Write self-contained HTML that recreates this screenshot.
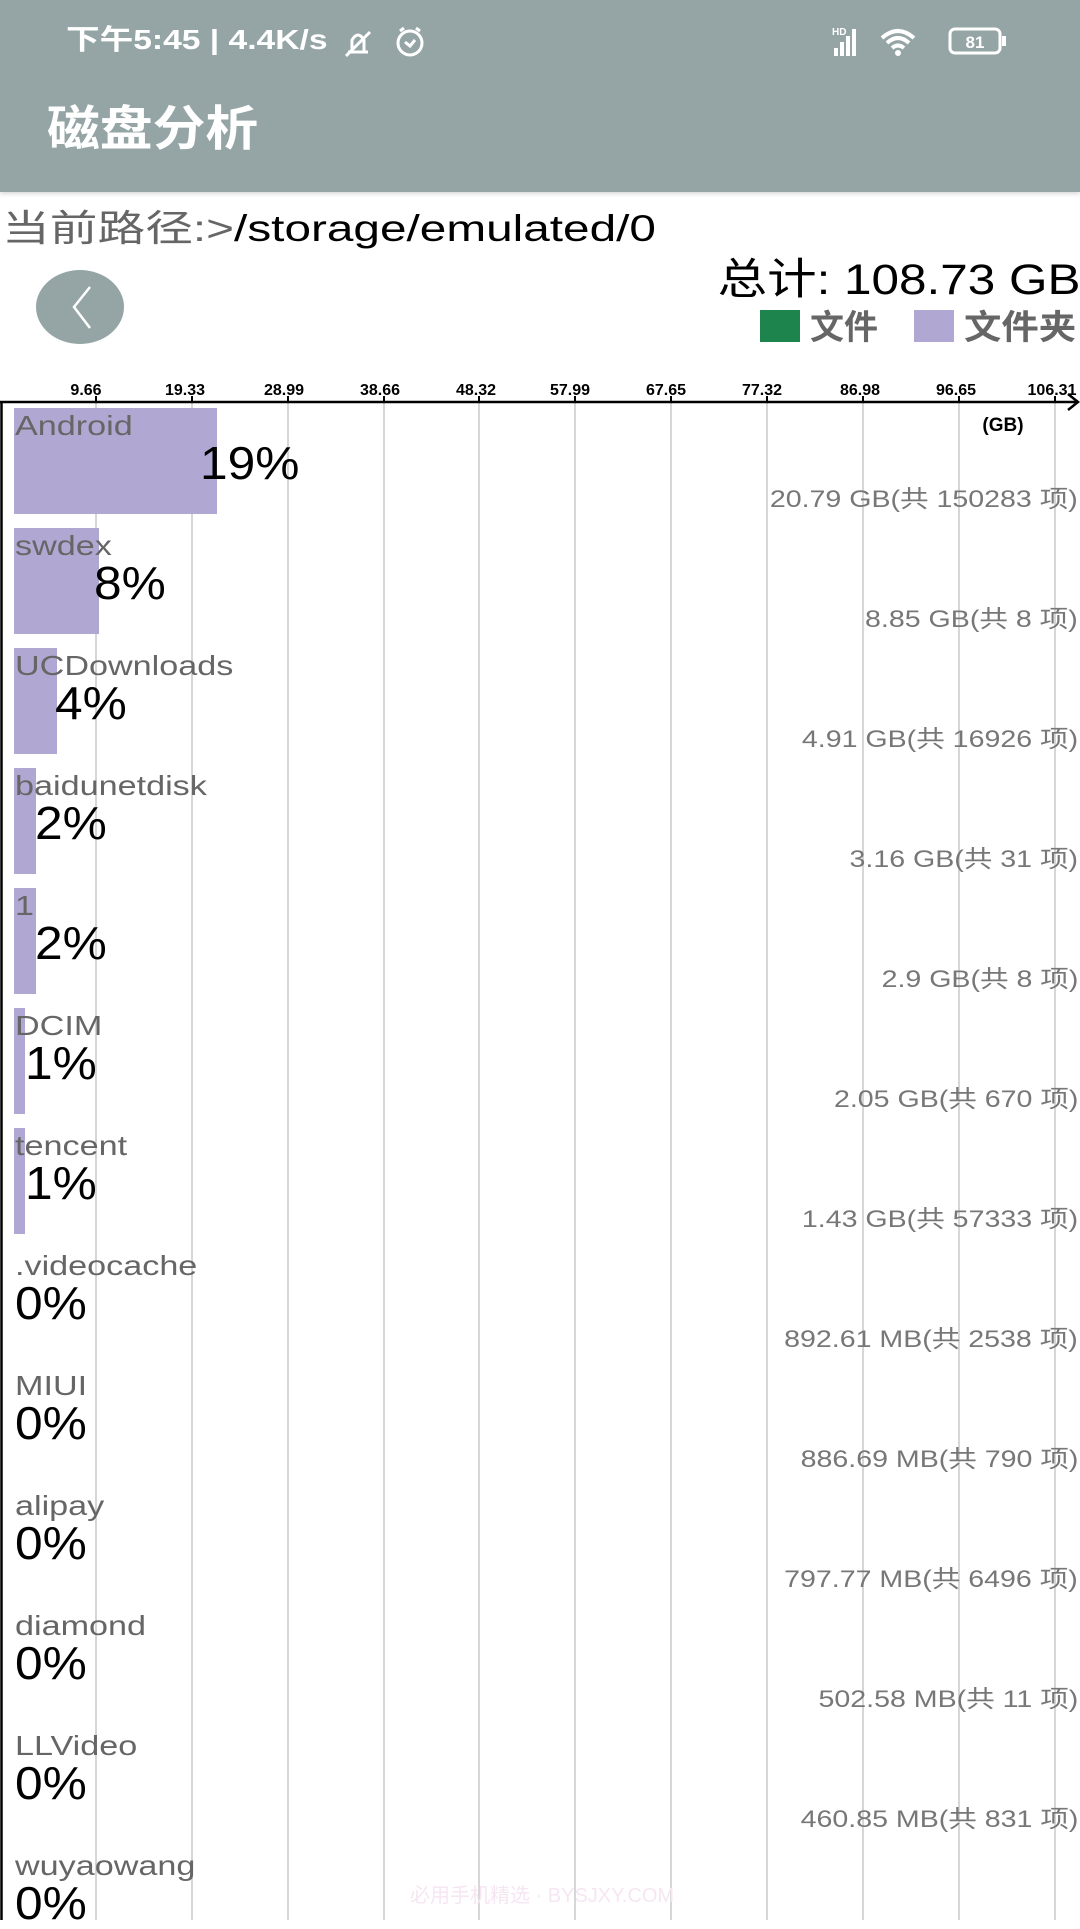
<!DOCTYPE html>
<html><head><meta charset="utf-8"><style>
*{margin:0;padding:0;box-sizing:border-box}
body{width:1080px;height:1920px;overflow:hidden;background:#fff;position:relative;font-family:"Liberation Sans","Noto Sans CJK SC",sans-serif}
.a{position:absolute;white-space:nowrap;line-height:1}
.hdr{position:absolute;left:0;top:0;width:1080px;height:192px;background:#95a5a5;box-shadow:0 2px 4px rgba(0,0,0,.15)}
.lab{position:absolute;left:15px;font-size:28px;color:#666;line-height:1;white-space:nowrap;transform:scaleX(1.22);transform-origin:left}
.pct{position:absolute;font-size:46px;color:#000;line-height:1;transform:scaleX(1.08);transform-origin:left}
.sz{position:absolute;right:2px;font-size:24px;color:#777;line-height:1;white-space:nowrap;transform:scaleX(1.19);transform-origin:right}
.bar{position:absolute;left:14px;height:106px;background:#b0a8d2}
</style></head><body>
<div class="hdr"></div>
<div class="a" style="left:66px;top:26px;font-size:28px;font-weight:bold;color:#fff;transform:scaleX(1.2);transform-origin:left">下午5:45 | 4.4K/s</div>
<svg class="a" style="left:342px;top:24px" width="90" height="36" viewBox="0 0 90 36" fill="none" stroke="#fff" stroke-width="3">
<path d="M6 28 L26 28 M10 28 L10 16 Q16 6 22 16 L22 28 M4 32 L28 8"/>
<circle cx="68" cy="19" r="12"/><path d="M63 18 L68 22 L73 16 M58 7 L62 4 M78 7 L74 4"/></svg>
<svg class="a" style="left:830px;top:24px" width="190" height="34" viewBox="0 0 190 34">
<text x="2" y="11" font-size="10" fill="#fff" font-family="Liberation Sans" font-weight="bold">HD</text>
<g fill="#fff"><rect x="4" y="24" width="4" height="8"/><rect x="10" y="18" width="4" height="14"/><rect x="16" y="12" width="4" height="20"/><rect x="22" y="5" width="4" height="27"/></g>
<path d="M52 14 Q68 0 84 14 M57 19 Q68 9 79 19 M62 24 Q68 19 74 24" stroke="#fff" stroke-width="4" fill="none"/><circle cx="68" cy="29" r="3" fill="#fff"/>
<rect x="120" y="5" width="50" height="24" rx="5" fill="none" stroke="#fff" stroke-width="3"/><rect x="172" y="12" width="4" height="10" fill="#fff"/>
<text x="145" y="24" font-size="17" fill="#fff" text-anchor="middle" font-family="Liberation Sans" font-weight="bold">81</text></svg>
<div class="a" style="left:47px;top:106px;font-size:48px;font-weight:bold;color:#fff;transform:scaleX(1.1);transform-origin:left">磁盘分析</div>
<div class="a" style="left:2px;top:210px;font-size:37px;color:#666;transform:scaleX(1.29);transform-origin:left">当前路径:&gt;<span style="color:#000">/storage/emulated/0</span></div>
<div class="a" style="right:0;top:259px;font-size:43px;color:#000;transform:scaleX(1.15);transform-origin:right">总计: 108.73 GB</div>
<div class="a" style="left:36px;top:270px;width:88px;height:74px;border-radius:50%;background:#95a5a5"></div>
<svg class="a" style="left:36px;top:270px" width="88" height="74"><polyline points="54,17 38,37 54,58" fill="none" stroke="#fff" stroke-width="2.5"/></svg>
<div class="a" style="left:760px;top:310px;width:40px;height:32px;background:#1e844e"></div>
<div class="a" style="left:810px;top:311px;font-size:34px;font-weight:bold;color:#666">文件</div>
<div class="a" style="left:914px;top:310px;width:40px;height:32px;background:#b0a8d2"></div>
<div class="a" style="left:964px;top:311px;font-size:34px;font-weight:bold;color:#666;transform:scaleX(1.1);transform-origin:left">文件夹</div>
<svg class="a" style="left:0;top:370px" width="1080" height="1550">
<g stroke="#c8c8c8" stroke-width="1.5">
<line x1="96" y1="32" x2="96" y2="1550"/><line x1="192" y1="32" x2="192" y2="1550"/><line x1="288" y1="32" x2="288" y2="1550"/><line x1="384" y1="32" x2="384" y2="1550"/><line x1="479" y1="32" x2="479" y2="1550"/><line x1="575" y1="32" x2="575" y2="1550"/><line x1="671" y1="32" x2="671" y2="1550"/><line x1="767" y1="32" x2="767" y2="1550"/><line x1="863" y1="32" x2="863" y2="1550"/><line x1="959" y1="32" x2="959" y2="1550"/><line x1="1055" y1="32" x2="1055" y2="1550"/></g>
<line x1="0" y1="32" x2="1078" y2="32" stroke="#000" stroke-width="2.5"/>
<line x1="1.5" y1="32" x2="1.5" y2="1550" stroke="#000" stroke-width="2.5"/>
<polyline points="1068,24 1078,32 1068,40" fill="none" stroke="#000" stroke-width="2.5"/>
<g stroke="#000" stroke-width="2"><line x1="96" y1="26" x2="96" y2="32"/><line x1="192" y1="26" x2="192" y2="32"/><line x1="288" y1="26" x2="288" y2="32"/><line x1="384" y1="26" x2="384" y2="32"/><line x1="479" y1="26" x2="479" y2="32"/><line x1="575" y1="26" x2="575" y2="32"/><line x1="671" y1="26" x2="671" y2="32"/><line x1="767" y1="26" x2="767" y2="32"/><line x1="863" y1="26" x2="863" y2="32"/><line x1="959" y1="26" x2="959" y2="32"/><line x1="1055" y1="26" x2="1055" y2="32"/></g>
<g font-family="Liberation Sans" font-size="16" font-weight="bold" text-anchor="middle" fill="#000">
<text x="86" y="25">9.66</text><text x="185" y="25">19.33</text><text x="284" y="25">28.99</text><text x="380" y="25">38.66</text><text x="476" y="25">48.32</text><text x="570" y="25">57.99</text><text x="666" y="25">67.65</text><text x="762" y="25">77.32</text><text x="860" y="25">86.98</text><text x="956" y="25">96.65</text><text x="1052" y="25">106.31</text></g>
<text x="1003" y="61" font-family="Liberation Sans" font-size="19" font-weight="bold" text-anchor="middle">(GB)</text>
</svg>
<div class="bar" style="top:408px;width:203px"></div>
<div class="bar" style="top:528px;width:85px"></div>
<div class="bar" style="top:648px;width:43px"></div>
<div class="bar" style="top:768px;width:22px"></div>
<div class="bar" style="top:888px;width:22px"></div>
<div class="bar" style="top:1008px;width:11px"></div>
<div class="bar" style="top:1128px;width:11px"></div>

<div class="lab" style="top:412px">Android</div><div class="pct" style="left:200px;top:440px">19%</div><div class="sz" style="top:488px">20.79 GB(共 150283 项)</div>
<div class="lab" style="top:532px">swdex</div><div class="pct" style="left:94px;top:560px">8%</div><div class="sz" style="top:608px">8.85 GB(共 8 项)</div>
<div class="lab" style="top:652px">UCDownloads</div><div class="pct" style="left:55px;top:680px">4%</div><div class="sz" style="top:728px">4.91 GB(共 16926 项)</div>
<div class="lab" style="top:772px">baidunetdisk</div><div class="pct" style="left:35px;top:800px">2%</div><div class="sz" style="top:848px">3.16 GB(共 31 项)</div>
<div class="lab" style="top:892px">1</div><div class="pct" style="left:35px;top:920px">2%</div><div class="sz" style="top:968px">2.9 GB(共 8 项)</div>
<div class="lab" style="top:1012px">DCIM</div><div class="pct" style="left:25px;top:1040px">1%</div><div class="sz" style="top:1088px">2.05 GB(共 670 项)</div>
<div class="lab" style="top:1132px">tencent</div><div class="pct" style="left:25px;top:1160px">1%</div><div class="sz" style="top:1208px">1.43 GB(共 57333 项)</div>
<div class="lab" style="top:1252px">.videocache</div><div class="pct" style="left:15px;top:1280px">0%</div><div class="sz" style="top:1328px">892.61 MB(共 2538 项)</div>
<div class="lab" style="top:1372px">MIUI</div><div class="pct" style="left:15px;top:1400px">0%</div><div class="sz" style="top:1448px">886.69 MB(共 790 项)</div>
<div class="lab" style="top:1492px">alipay</div><div class="pct" style="left:15px;top:1520px">0%</div><div class="sz" style="top:1568px">797.77 MB(共 6496 项)</div>
<div class="lab" style="top:1612px">diamond</div><div class="pct" style="left:15px;top:1640px">0%</div><div class="sz" style="top:1688px">502.58 MB(共 11 项)</div>
<div class="lab" style="top:1732px">LLVideo</div><div class="pct" style="left:15px;top:1760px">0%</div><div class="sz" style="top:1808px">460.85 MB(共 831 项)</div>
<div class="lab" style="top:1852px">wuyaowang</div><div class="pct" style="left:15px;top:1880px">0%</div>
<div class="a" style="left:410px;top:1886px;font-size:20px;color:#f6e6f2">必用手机精选 · BYSJXY.COM</div>
</body></html>
